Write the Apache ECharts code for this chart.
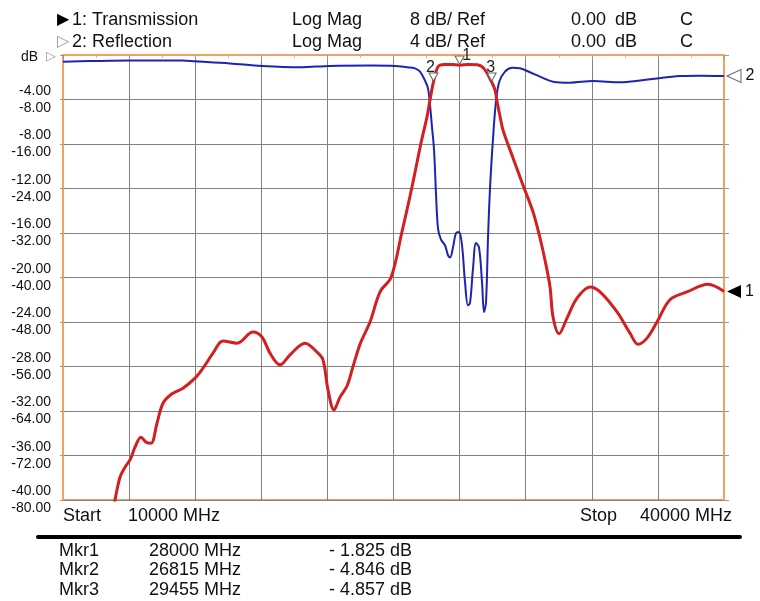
<!DOCTYPE html>
<html>
<head>
<meta charset="utf-8">
<script src="https://cdn.jsdelivr.net/npm/echarts@6/dist/echarts.min.js"></script>
<style>
html,body{margin:0;padding:0;background:#fff;}
#chart{width:760px;height:601px;}
</style>
</head>
<body>
<div id="chart"></div>
<script>
// ---- data (frequency in MHz, level in dB) ----
const transFreq = [12250,12360,12587,12814,13041,13268,13540,13767,13994,14266,14539,14947,15446,15991,16354,16808,17262,17897,18623,19032,19395,19849,20303,20984,21528,21800,22027,22300,22572,22890,23162,23500,23934,24400,24887,25372,25825,26250,26521,26657,26815,27021,27300,27650,28000,28400,28800,29100,29455,29607,29698,29834,29970,30424,30878,31332,31650,31877,32104,32241,32513,32875,33329,33919,34373,35145,35734,36098,36506,36960,37549,38321,39274,40000];
const transDb   = [-82.5,-80.0,-75.9,-74.1,-72.8,-70.5,-68.7,-69.6,-69.8,-66.2,-62.6,-60.9,-59.9,-58.1,-56.3,-53.6,-51.4,-51.8,-49.8,-50.7,-53.6,-55.7,-53.9,-51.8,-53.4,-54.8,-60.2,-63.8,-61.5,-59.5,-56.0,-51.8,-48.0,-42.5,-40.0,-32.0,-24.0,-15.8,-11.1,-8.1,-4.846,-2.1,-1.7,-1.7,-1.825,-1.7,-1.75,-2.4,-4.857,-6.3,-8.3,-11.0,-13.5,-18.5,-23.4,-28.2,-32.9,-36.9,-41.7,-47.1,-50.1,-47.3,-43.7,-41.7,-42.6,-46.2,-50.0,-52.0,-50.9,-48.0,-44.0,-42.6,-41.2,-42.5];

const reflFreq = [10000,11225,13041,15401,15991,17580,19032,20757,22118,24000,25068,25613,25976,26203,26430,26566,26657,26748,26839,26930,27021,27157,27338,27474,27565,27701,27837,27973,28109,28245,28381,28472,28608,28745,28881,29017,29108,29199,29290,29380,29517,29650,29800,30061,30379,30742,31196,31650,32241,33012,34056,35281,36642,38004,38911,40000];
const reflDb   = [-0.6,-0.55,-0.5,-0.5,-0.57,-0.76,-0.99,-1.11,-0.98,-0.95,-0.98,-1.1,-1.2,-1.5,-2.3,-3.0,-4.5,-6.5,-8.5,-12.5,-15.6,-16.6,-17.1,-18.0,-18.2,-17.3,-16.0,-15.9,-17.1,-20.4,-22.5,-22.3,-19.2,-16.9,-17.3,-20.4,-23.1,-22.2,-16.4,-12.0,-7.5,-4.2,-2.4,-1.5,-1.15,-1.2,-1.55,-1.95,-2.4,-2.49,-2.34,-2.45,-2.18,-1.89,-1.86,-1.89];

// ---- markers ----
const markerNames = ['Mkr1','Mkr2','Mkr3'];
const markerFreqs = [28000, 26815, 29455];
const markerVals  = [-1.825, -4.846, -4.857];

// ---- axis scale labels ----
const transTickLabels = ['dB','-8.00','-16.00','-24.00','-32.00','-40.00','-48.00','-56.00','-64.00','-72.00','-80.00'];
const reflTickLabels  = ['','-4.00','-8.00','-12.00','-16.00','-20.00','-24.00','-28.00','-32.00','-36.00','-40.00'];

// ---- header / footer text ----
const traceNames = ['1: Transmission','2: Reflection'];
const traceFormats = ['Log Mag','Log Mag'];
const traceScales = ['8 dB/ Ref','4 dB/ Ref'];
const traceRefs = ['0.00','0.00'];
const traceChans = ['C','C'];
const startLabel = 'Start';
const startFreq = '10000 MHz';
const stopLabel = 'Stop';
const stopFreq = '40000 MHz';

const FONT = '"Liberation Sans", Arial, sans-serif';
const TXT = '18px ' + FONT;
const RED = '#d21f1f';
const BLUE = '#1f23b4';
const ORANGE = '#f0a263';
const GRIDC = '#808080';

const transData = transFreq.map((f,i)=>[f, transDb[i]]);
const reflData = reflFreq.map((f,i)=>[f, reflDb[i]]);

const markerLabelOffsets = [[7,-5],[-3,-9],[-1,-9]];
const markerPoints = markerFreqs.map((f,i)=>({
  coord:[f, markerVals[i]],
  symbol:'triangle', symbolRotate:180, symbolSize:[9,8], symbolOffset:[0,-5],
  itemStyle:{color:'#fff', borderColor:'#666', borderWidth:1},
  label:{show:true, formatter:String(i+1), color:'#222', fontSize:16, fontFamily:FONT,
         position:'inside', offset:markerLabelOffsets[i]}
}));

const headerGraphics = [];
traceNames.forEach((name,i)=>{
  const y = 11 + i*22;
  headerGraphics.push(
    {type:'text', left:57, top:y+1, style:{text: i===0 ? '▶' : '▷', fill: i===0 ? '#000' : '#999', font:'16px "DejaVu Sans"'}},
    {type:'text', left:72, top:y, style:{text:name, fill:'#111', font:TXT}},
    {type:'text', left:292, top:y, style:{text:traceFormats[i], fill:'#111', font:TXT}},
    {type:'text', left:410, top:y, style:{text:traceScales[i], fill:'#111', font:TXT}},
    {type:'text', left:571, top:y, style:{text:traceRefs[i], fill:'#111', font:TXT}},
    {type:'text', left:615, top:y, style:{text:'dB', fill:'#111', font:TXT}},
    {type:'text', left:680, top:y, style:{text:traceChans[i], fill:'#111', font:TXT}}
  );
});

const tableGraphics = [];
markerNames.forEach((n,i)=>{
  const y = 542 + i*19.5;
  const v = markerVals[i];
  tableGraphics.push(
    {type:'text', left:59, top:y, style:{text:n, fill:'#111', font:TXT}},
    {type:'text', left:149, top:y, style:{text:markerFreqs[i]+' MHz', fill:'#111', font:TXT}},
    {type:'text', left:329, top:y, style:{text:(v<0?'- ':'')+Math.abs(v).toFixed(3)+' dB', fill:'#111', font:TXT}}
  );
});

const chart = echarts.init(document.getElementById('chart'), null, {renderer:'canvas'});
chart.setOption({
  animation:false,
  backgroundColor:'#fff',
  grid:{left:63, right:36, top:55, bottom:101, show:true, borderColor:ORANGE, borderWidth:2, backgroundColor:'#fff'},
  xAxis:[
    {type:'value', min:10000, max:40000, show:false},
    {type:'value', min:0, max:10, interval:1, position:'bottom',
     axisLine:{show:true, lineStyle:{color:ORANGE, width:2}},
     axisTick:{show:true, length:5, lineStyle:{color:'#999'}},
     minorTick:{show:true, splitNumber:2, length:3, lineStyle:{color:'#bbb'}},
     axisLabel:{show:false},
     splitLine:{show:true, lineStyle:{color:GRIDC, width:1}}}
  ],
  yAxis:[
    {type:'value', min:-80, max:0, interval:8, position:'left',
     axisLine:{show:true, lineStyle:{color:ORANGE, width:2}},
     axisTick:{show:true, length:3, lineStyle:{color:'#999'}},
     minorTick:{show:false},
     splitLine:{show:true, lineStyle:{color:GRIDC, width:1}},
     axisLabel:{show:true, margin:12, color:'#111', fontSize:14, fontFamily:FONT, lineHeight:17,
       rich:{db:{fontSize:14, fontFamily:FONT, color:'#111', padding:[4,13,0,0]}},
       formatter:(v)=>{const k=Math.round(-v/8); return k===0 ? '{db|'+transTickLabels[0]+'}' : reflTickLabels[k]+'\n'+transTickLabels[k];}}},
    {type:'value', min:-40, max:0, interval:4, position:'right',
     axisLine:{show:true, lineStyle:{color:ORANGE, width:2}},
     axisTick:{show:true, length:5, lineStyle:{color:'#999'}},
     minorTick:{show:false},
     splitLine:{show:false}, axisLabel:{show:false}}
  ],
  series:[
    {type:'line', name:'Reflection', xAxisIndex:0, yAxisIndex:1, data:reflData, showSymbol:false,
     smooth:0.35, lineStyle:{color:BLUE, width:2}, z:3,
     markPoint:{silent:true, data:[{coord:[40000, reflDb[reflDb.length-1]], symbol:'triangle', symbolRotate:90, symbolSize:[13,14], symbolOffset:[10,0],
        itemStyle:{color:'#fff', borderColor:'#666', borderWidth:1},
        label:{show:true, formatter:'2', position:'right', offset:[-1,0], color:'#111', fontSize:16, fontFamily:FONT}}]}},
    {type:'line', name:'Transmission', xAxisIndex:0, yAxisIndex:0, data:transData, showSymbol:false,
     smooth:0.35, lineStyle:{color:RED, width:3}, z:4,
     markPoint:{silent:true, data:markerPoints.concat([{coord:[40000, transDb[transDb.length-1]], symbol:'triangle', symbolRotate:90, symbolSize:[13,14], symbolOffset:[10,0],
        itemStyle:{color:'#000'},
        label:{show:true, formatter:'1', position:'right', offset:[-1,0], color:'#111', fontSize:16, fontFamily:FONT}}])}}
  ],
  graphic:[
    ...headerGraphics,
    {type:'text', left:46, top:50, style:{text:'▷', fill:'#999', font:'13px "DejaVu Sans"'}},
    {type:'text', left:63, top:507, style:{text:startLabel, fill:'#111', font:TXT}},
    {type:'text', left:128, top:507, style:{text:startFreq, fill:'#111', font:TXT}},
    {type:'text', left:580, top:507, style:{text:stopLabel, fill:'#111', font:TXT}},
    {type:'text', left:640, top:507, style:{text:stopFreq, fill:'#111', font:TXT}},
    {type:'line', shape:{x1:38, y1:537, x2:740, y2:537}, style:{stroke:'#000', lineWidth:4, lineCap:'round'}},
    ...tableGraphics
  ]
});
</script>
</body>
</html>
